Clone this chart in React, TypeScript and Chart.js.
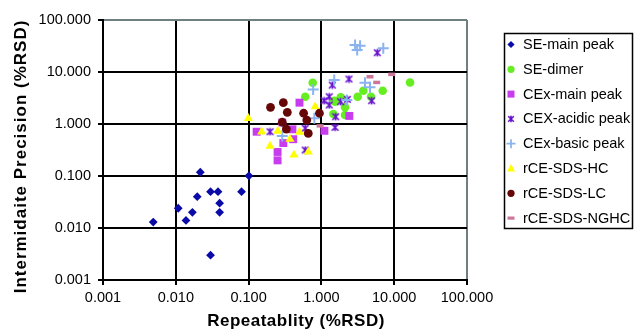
import React, { useEffect, useRef } from 'react';
import { Chart, registerables } from 'chart.js';

Chart.register(...registerables);

// ---- Data (Repeatability %RSD = x, Intermediate Precision %RSD = y) ----
const seriesNames = [
  'SE-main peak',
  'SE-dimer',
  'CEx-main peak',
  'CEX-acidic peak',
  'CEx-basic peak',
  'rCE-SDS-HC',
  'rCE-SDS-LC',
  'rCE-SDS-NGHC',
];

const seMainX = [0.0049, 0.0108, 0.0138, 0.0169, 0.0197, 0.0217, 0.030, 0.038, 0.040, 0.040, 0.030, 0.080, 0.101];
const seMainY = [0.013, 0.024, 0.014, 0.020, 0.040, 0.118, 0.050, 0.050, 0.030, 0.020, 0.003, 0.050, 0.101];

const seDimerX = [0.76, 0.60, 1.50, 1.84, 2.11, 1.46, 2.11, 1.54, 3.15, 3.77, 4.8, 6.95, 16.5];
const seDimerY = [6.2, 3.35, 2.8, 3.26, 2.10, 1.56, 1.49, 2.68, 3.35, 4.37, 3.35, 4.37, 6.3];

const cexMainX = [0.50, 2.42, 1.10, 0.129, 0.29, 0.40, 0.30, 0.41, 0.25, 0.25];
const cexMainY = [2.57, 1.43, 0.74, 0.71, 1.07, 0.79, 0.43, 0.51, 0.29, 0.20];

const cexAcidicX = [5.86, 2.39, 1.41, 1.28, 1.09, 1.28, 1.84, 2.27, 4.9, 1.57, 1.54, 0.60, 0.197, 0.60];
const cexAcidicY = [23.5, 7.33, 5.6, 3.35, 2.8, 2.32, 2.68, 2.98, 2.8, 1.38, 0.86, 0.83, 0.71, 0.316];

const cexBasicX = [2.9, 3.4, 3.1, 7.08, 1.50, 0.77, 3.97, 4.65, 2.23, 0.80, 0.29];
const cexBasicY = [33, 32, 26.5, 28.5, 7.0, 4.6, 6.2, 5.1, 2.9, 1.29, 0.59];

const hcX = [0.099, 0.151, 0.251, 0.50, 0.37, 0.197, 0.66, 0.42, 0.82];
const hcY = [1.29, 0.71, 0.73, 0.70, 0.51, 0.377, 0.29, 0.254, 2.15];

const lcX = [0.20, 0.30, 0.34, 0.57, 0.63, 0.94, 0.29, 0.33, 0.66];
const lcY = [2.09, 2.57, 1.68, 1.61, 1.19, 1.61, 1.08, 0.80, 0.66];

const nghcX = [4.65, 5.75, 9.25, 0.96];
const nghcY = [8.1, 6.3, 9.0, 0.92];

const xTickValues = [0.001, 0.01, 0.1, 1, 10, 100];
const yTickValues = [0.001, 0.01, 0.1, 1, 10, 100];

const xTitle = 'Repeatablity (%RSD)';
const yTitle = 'Intermidaite Precision (%RSD)';

// ---- Styles ----
const colors = ['#0a0aa8', '#66ee22', '#c83cf0', '#6610cc', '#8ab4f0', '#ffff00', '#650707', '#cc7799'];
const FONT = '"Liberation Sans", Arial, Helvetica, sans-serif';
const GRAY = '#6f7f7f';

function makeStarCanvas(color: string, size: number) {
  const c = document.createElement('canvas');
  c.width = size;
  c.height = size;
  const ctx = c.getContext('2d')!;
  ctx.strokeStyle = color;
  ctx.lineWidth = 1.6;
  const a = 1.2, b = size - 1.2, m = size / 2;
  ctx.beginPath();
  ctx.moveTo(a, a); ctx.lineTo(b, b);
  ctx.moveTo(b, a); ctx.lineTo(a, b);
  ctx.moveTo(m, a - 0.4); ctx.lineTo(m, b + 0.4);
  ctx.stroke();
  return c;
}

function drawLegendMarker(ctx: CanvasRenderingContext2D, i: number, x: number, y: number, star: HTMLCanvasElement) {
  const col = colors[i];
  ctx.save();
  ctx.fillStyle = col;
  ctx.strokeStyle = col;
  switch (i) {
    case 0: {
      const r = 3.6;
      ctx.beginPath();
      ctx.moveTo(x, y - r); ctx.lineTo(x + r, y); ctx.lineTo(x, y + r); ctx.lineTo(x - r, y);
      ctx.closePath(); ctx.fill();
      break;
    }
    case 1:
    case 6:
      ctx.beginPath(); ctx.arc(x, y, 3.6, 0, Math.PI * 2); ctx.fill();
      break;
    case 2:
      ctx.fillRect(x - 3.5, y - 3.5, 7, 7);
      break;
    case 3:
      ctx.drawImage(star, x - star.width / 2, y - star.height / 2);
      break;
    case 4:
      ctx.lineWidth = 1.8;
      ctx.beginPath();
      ctx.moveTo(x - 4.5, y); ctx.lineTo(x + 4.5, y);
      ctx.moveTo(x, y - 4.5); ctx.lineTo(x, y + 4.5);
      ctx.stroke();
      break;
    case 5:
      ctx.beginPath();
      ctx.moveTo(x, y - 4.5); ctx.lineTo(x + 4, y + 3); ctx.lineTo(x - 4, y + 3);
      ctx.closePath(); ctx.fill();
      break;
    case 7:
      ctx.fillRect(x - 3.5, y - 1.6, 7, 3.2);
      break;
  }
  ctx.restore();
}

export default function App() {
  const canvasRef = useRef<HTMLCanvasElement | null>(null);

  useEffect(() => {
    const canvas = canvasRef.current;
    if (!canvas) return;
    const star = makeStarCanvas(colors[3], 9);
    const starLegend = makeStarCanvas(colors[3], 8);

    const xs = [seMainX, seDimerX, cexMainX, cexAcidicX, cexBasicX, hcX, lcX, nghcX];
    const ys = [seMainY, seDimerY, cexMainY, cexAcidicY, cexBasicY, hcY, lcY, nghcY];
    const styles: any[] = [
      { pointStyle: 'rectRot', pointRadius: 4.4, borderWidth: 0 },
      { pointStyle: 'circle', pointRadius: 4.3, borderWidth: 0 },
      { pointStyle: 'rect', pointRadius: 5.6, borderWidth: 0 },
      { pointStyle: star, pointRadius: 4.5, borderWidth: 0 },
      { pointStyle: 'cross', pointRadius: 5.5, borderWidth: 2 },
      { pointStyle: 'triangle', pointRadius: 5.3, borderWidth: 0 },
      { pointStyle: 'circle', pointRadius: 4.4, borderWidth: 0 },
      { pointStyle: 'line', pointRadius: 3.5, borderWidth: 3.5 },
    ];

    const datasets = seriesNames.map((name, i) => ({
      label: name,
      data: xs[i].map((x, j) => ({ x, y: ys[i][j] })),
      backgroundColor: colors[i],
      borderColor: colors[i],
      pointBackgroundColor: colors[i],
      pointBorderColor: colors[i],
      pointStyle: styles[i].pointStyle,
      pointRadius: styles[i].pointRadius,
      pointHoverRadius: styles[i].pointRadius,
      pointBorderWidth: styles[i].borderWidth,
      showLine: false,
      order: seriesNames.length - i,
    }));

    const legendPlugin = {
      id: 'boxLegend',
      afterDraw(chart: any) {
        const ctx: CanvasRenderingContext2D = chart.ctx;
        ctx.save();
        // legend box
        ctx.strokeStyle = '#000';
        ctx.lineWidth = 1.5;
        ctx.strokeRect(504.5, 33.5, 128, 195);
        ctx.font = `14.5px ${FONT}`;
        ctx.textBaseline = 'middle';
        ctx.textAlign = 'left';
        seriesNames.forEach((name, i) => {
          const y = 44.5 + i * 24.8;
          drawLegendMarker(ctx, i, 511, y, starLegend);
          ctx.fillStyle = '#000';
          ctx.fillText(name, 523, y + 0.5);
        });
        // axis titles
        ctx.fillStyle = '#000';
        ctx.textAlign = 'center';
        ctx.textBaseline = 'middle';
        ctx.font = `bold 17px ${FONT}`;
        (ctx as any).letterSpacing = '0.5px';
        ctx.fillText(xTitle, 296, 321);
        ctx.save();
        ctx.translate(21.5, 156.5);
        ctx.rotate(-Math.PI / 2);
        (ctx as any).letterSpacing = '1px';
        ctx.fillText(yTitle, 0, 0);
        ctx.restore();
        (ctx as any).letterSpacing = '0px';
        ctx.restore();
      },
    };

    const gridColor = (c: any) => (c.tick && Math.abs(c.tick.value - 100) < 1e-9 ? GRAY : '#000');

    const chart = new Chart(canvas, {
      type: 'scatter',
      data: { datasets: datasets as any },
      plugins: [legendPlugin],
      options: {
        responsive: false,
        animation: false,
        devicePixelRatio: 1,
        layout: { padding: { left: 0, top: 20, right: 169, bottom: 0 } },
        plugins: {
          legend: { display: false },
          tooltip: { enabled: false },
        },
        scales: {
          x: {
            type: 'logarithmic',
            min: 0.001,
            max: 100,
            position: 'bottom',
            afterBuildTicks: (s: any) => {
              s.ticks = xTickValues.map((v) => ({ value: v }));
            },
            afterFit: (s: any) => {
              s.height = 51;
            },
            ticks: {
              autoSkip: false,
              maxRotation: 0,
              padding: 4,
              color: '#000',
              font: { family: FONT, size: 14.5 },
              callback: (v: any) => Number(v).toFixed(3),
            },
            grid: { color: gridColor, lineWidth: 2, tickLength: 5, tickColor: '#000', tickWidth: 2 },
            border: { display: true, color: '#000', width: 2 },
            title: { display: false },
          },
          y: {
            type: 'logarithmic',
            min: 0.001,
            max: 100,
            position: 'left',
            afterBuildTicks: (s: any) => {
              s.ticks = yTickValues.map((v) => ({ value: v }));
            },
            afterFit: (s: any) => {
              s.width = 103;
            },
            ticks: {
              autoSkip: false,
              padding: 7,
              color: '#000',
              font: { family: FONT, size: 14.5 },
              callback: (v: any) => Number(v).toFixed(3),
            },
            grid: { color: gridColor, lineWidth: 2, tickLength: 5, tickColor: '#000', tickWidth: 2 },
            border: { display: true, color: '#000', width: 2 },
            title: { display: false },
          },
        },
      } as any,
    });

    return () => chart.destroy();
  }, []);

  return (
    <div style={{ position: 'absolute', left: 0, top: 0, width: 636, height: 331, background: '#fff' }}>
      <canvas ref={canvasRef} width={636} height={331} style={{ width: 636, height: 331, display: 'block' }} />
    </div>
  );
}
